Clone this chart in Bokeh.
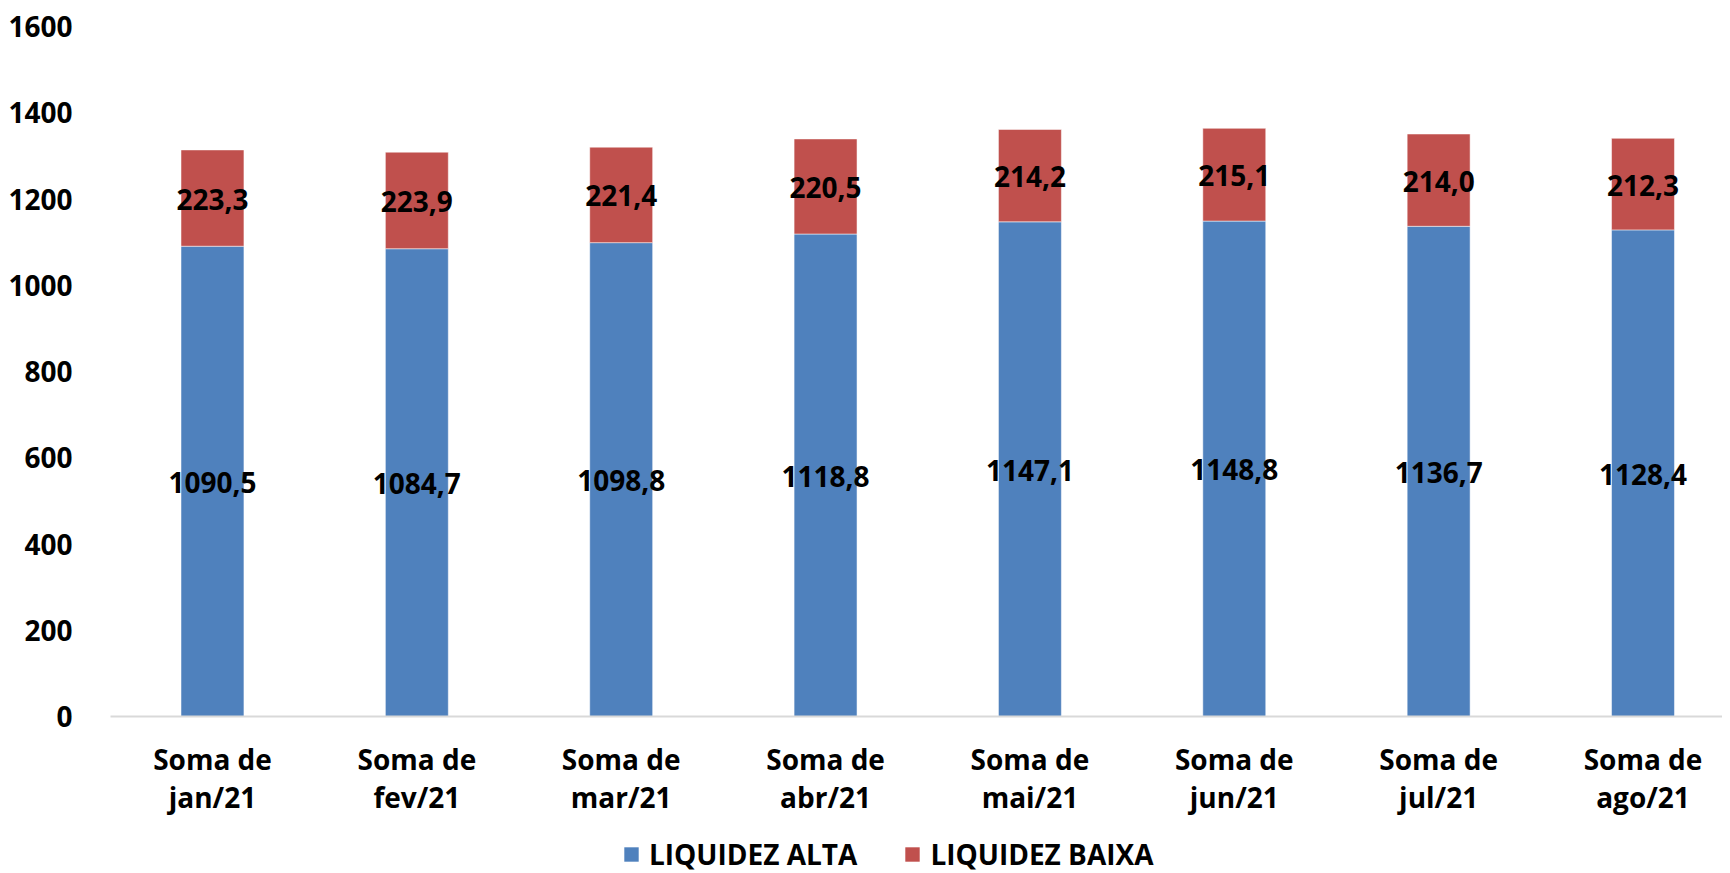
from bokeh.plotting import figure
from bokeh.layouts import column
from bokeh.models import ColumnDataSource, Range1d, FixedTicker, Legend, LegendItem
from bokeh.core.properties import value
from bokeh.embed import file_html
from bokeh.resources import INLINE

categories = ["Soma de\njan/21", "Soma de\nfev/21", "Soma de\nmar/21", "Soma de\nabr/21",
              "Soma de\nmai/21", "Soma de\njun/21", "Soma de\njul/21", "Soma de\nago/21"]
liquidez_alta = [1090.5, 1084.7, 1098.8, 1118.8, 1147.1, 1148.8, 1136.7, 1128.4]
liquidez_baixa = [223.3, 223.9, 221.4, 220.5, 214.2, 215.1, 214.0, 212.3]
series_names = ["LIQUIDEZ ALTA", "LIQUIDEZ BAIXA"]
y_ticks = [0, 200, 400, 600, 800, 1000, 1200, 1400, 1600]

FONT = "Open Sans"
BLUE = "#4F81BD"
RED = "#C0504D"

def fmt(v):
    return f"{v:.1f}".replace(".", ",")

xs = list(range(len(categories)))
top_total = [a + b for a, b in zip(liquidez_alta, liquidez_baixa)]

src = ColumnDataSource(dict(
    x=xs,
    alta=liquidez_alta,
    baixa=liquidez_baixa,
    total=top_total,
    zero=[0] * len(xs),
    y_alta_lbl=[a / 2 for a in liquidez_alta],
    y_baixa_lbl=[a + b / 2 for a, b in zip(liquidez_alta, liquidez_baixa)],
    t_alta=[fmt(v) for v in liquidez_alta],
    t_baixa=[fmt(v) for v in liquidez_baixa],
))

p = figure(width=1722, height=830, output_backend="svg", toolbar_location=None,
           x_range=Range1d(-0.499, 7.389), y_range=Range1d(0, 1600),
           min_border_left=110, min_border_right=0, min_border_top=26, min_border_bottom=114)
p.outline_line_color = None
p.xgrid.grid_line_color = None
p.ygrid.grid_line_color = None
p.background_fill_color = "white"
p.border_fill_color = "white"

W = 0.308
p.vbar(x="x", bottom="zero", top="alta", width=W, source=src,
       fill_color=BLUE, line_color="white", line_alpha=0.5, line_width=1)
p.vbar(x="x", bottom="alta", top="total", width=W, source=src,
       fill_color=RED, line_color="white", line_alpha=0.5, line_width=1)

p.text(x="x", y="y_alta_lbl", text="t_alta", source=src, text_align="center",
       text_baseline="middle", y_offset=1, text_font=value(FONT), text_font_style="bold",
       text_font_size="28px", text_color="black")
p.text(x="x", y="y_baixa_lbl", text="t_baixa", source=src, text_align="center",
       text_baseline="middle", y_offset=1, text_font=value(FONT), text_font_style="bold",
       text_font_size="28px", text_color="black")

# y axis
ya = p.yaxis[0]
ya.ticker = FixedTicker(ticks=y_ticks)
ya.axis_line_color = None
ya.major_tick_line_color = None
ya.minor_tick_line_color = None
ya.major_label_standoff = 32
ya.major_label_text_font = FONT
ya.major_label_text_font_style = "bold"
ya.major_label_text_font_size = "28px"
ya.major_label_text_color = "black"

# x axis
xa = p.xaxis[0]
xa.ticker = FixedTicker(ticks=xs)
xa.major_label_overrides = {i: c for i, c in zip(xs, categories)}
xa.axis_line_color = "#d9d9d9"
xa.axis_line_width = 2
xa.major_tick_line_color = None
xa.minor_tick_line_color = None
xa.major_label_standoff = 17
xa.major_label_text_font = FONT
xa.major_label_text_font_style = "bold"
xa.major_label_text_font_size = "28px"
xa.major_label_text_color = "black"
xa.major_label_text_line_height = 1.0

# legend strip (separate figure below the chart; its bars lie outside its view)
pl = figure(width=1722, height=43, output_backend="svg", toolbar_location=None,
            x_range=Range1d(-100, -99), y_range=Range1d(0, 1),
            x_axis_type=None, y_axis_type=None,
            min_border_left=0, min_border_right=0, min_border_top=0, min_border_bottom=0)
pl.outline_line_color = None
pl.xgrid.grid_line_color = None
pl.ygrid.grid_line_color = None
l_alta = pl.vbar(x="x", bottom="zero", top="alta", width=W, source=src,
                 fill_color=BLUE, line_color=None)
l_baixa = pl.vbar(x="x", bottom="alta", top="total", width=W, source=src,
                  fill_color=RED, line_color=None)

legend = Legend(items=[LegendItem(label=series_names[0], renderers=[l_alta]),
                       LegendItem(label=series_names[1], renderers=[l_baixa])],
                orientation="horizontal", location=(512, 0),
                glyph_width=18, glyph_height=18, label_standoff=9, spacing=46,
                padding=0, margin=0, border_line_color=None, background_fill_alpha=0,
                label_text_font=FONT, label_text_font_style="bold",
                label_text_font_size="28px", label_text_color="black")
pl.add_layout(legend, "center")

layout = column(p, pl, spacing=0)
open("out.html", "w").write(file_html(layout, INLINE))
